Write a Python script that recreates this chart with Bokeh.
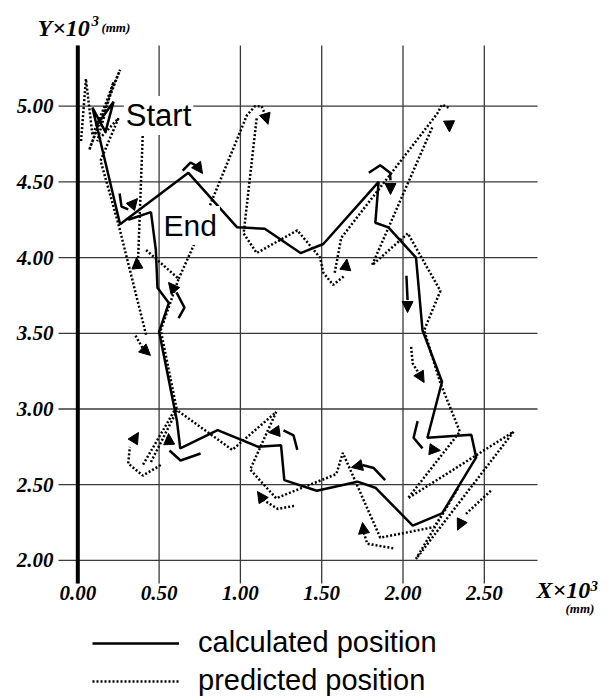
from bokeh.plotting import figure
from bokeh.models import (Range1d, Label, Arrow, NormalHead, ColumnDataSource, Legend, LegendItem)
from bokeh.core.properties import value
from bokeh.embed import file_html
from bokeh.resources import INLINE

# ---------------- data ----------------
x_ticks = [0.0, 0.5, 1.0, 1.5, 2.0, 2.5]
x_tick_labels = ["0.00", "0.50", "1.00", "1.50", "2.00", "2.50"]
y_ticks = [2.0, 2.5, 3.0, 3.5, 4.0, 4.5, 5.0]
y_tick_labels = ["2.00", "2.50", "3.00", "3.50", "4.00", "4.50", "5.00"]

# calculated position (solid)
calc_x = [0.12, 0.22, 0.17, 0.09, 0.26, 0.68, 0.98, 1.15, 1.37, 1.51, 1.85, 1.83, 1.91, 2.08,
          2.12, 2.24, 2.15, 2.42, 2.45, 2.24, 2.06, 1.83, 1.72, 1.47, 1.27, 1.25, 1.11, 0.86,
          0.63, 0.61, 0.50, 0.56, 0.49, 0.48, 0.45, 0.31]
calc_y = [4.88, 5.03, 4.83, 4.99, 4.22, 4.56, 4.20, 4.19, 4.03, 4.09, 4.50, 4.23, 4.20, 4.00,
          3.52, 3.18, 2.81, 2.83, 2.68, 2.31, 2.23, 2.48, 2.52, 2.46, 2.53, 2.76, 2.75, 2.86,
          2.74, 2.92, 3.51, 3.70, 3.80, 4.05, 4.30, 4.25]

# predicted position (dotted), in pieces
pred_xs = [
    [0.02, 0.05, 0.09, 0.26, 0.07, 0.22, 0.12, 0.25, 0.14, 0.25, 0.42],
    [0.40, 0.37],
    [0.42, 0.62, 0.51, 0.61],
    [0.62, 0.70, 1.04, 1.09, 1.13, 1.15],
    [1.10, 1.02, 1.10, 1.35, 1.49, 1.51, 1.57, 1.64],
    [1.58, 1.62, 2.21, 2.24, 2.28],
    [2.18, 1.81, 2.03, 2.23, 2.13, 2.23, 2.35, 2.03, 2.68, 2.08, 2.34, 2.24, 2.19, 1.86,
     1.63, 1.59, 1.22, 1.06, 1.22, 0.95, 0.60, 0.40],
    [0.45, 0.61],
]
pred_ys = [
    [4.77, 5.18, 4.81, 5.24, 4.71, 5.16, 4.77, 4.92, 4.64, 4.22, 3.49],
    [4.83, 3.97],
    [4.05, 3.86, 3.52, 2.99],
    [3.86, 4.05, 4.94, 5.00, 5.00, 4.95],
    [4.92, 4.16, 4.03, 4.18, 4.00, 3.90, 3.82, 3.88],
    [3.90, 4.13, 4.95, 5.01, 4.99],
    [4.86, 3.95, 4.16, 3.78, 3.52, 3.17, 2.85, 2.41, 2.85, 2.01, 2.48, 2.30, 2.22, 2.15,
     2.71, 2.57, 2.41, 2.60, 2.98, 2.73, 3.00, 2.63],
    [2.65, 2.99],
]

# direction curls (solid)
curl_solid_xs = [[0.645, 0.693, 0.736], [1.79, 1.86, 1.92, 1.923], [0.257, 0.269, 0.31],
                 [0.62, 0.656, 0.607], [2.021, 2.028], [2.09, 2.065, 2.12],
                 [1.89, 1.82, 1.75], [1.35, 1.327, 1.265], [0.755, 0.632, 0.564]]
curl_solid_ys = [[4.575, 4.628, 4.602], [4.56, 4.61, 4.56, 4.51], [4.423, 4.337, 4.318],
                 [3.60, 3.67, 3.77], [3.88, 3.72], [2.92, 2.81, 2.74],
                 [2.53, 2.61, 2.63], [2.73, 2.825, 2.858], [2.706, 2.66, 2.726]]
# direction curls (dotted)
curl_dot_xs = [[2.05, 2.06, 2.10], [0.51, 0.40, 0.31, 0.32], [1.33, 1.23, 1.14],
               [1.94, 1.78, 1.76], [2.54, 2.38], [0.355, 0.40]]
curl_dot_ys = [[3.41, 3.30, 3.23], [2.63, 2.56, 2.64, 2.75], [2.36, 2.34, 2.40],
               [2.08, 2.11, 2.18], [2.46, 2.30], [3.485, 3.40]]

# arrow heads: from (x0,y0) toward tip (x1,y1)
head_x0 = [0.736, 1.923, 0.31, 0.607, 2.028, 2.12, 1.75, 1.265, 0.564,
           2.10, 0.32, 1.14, 1.76, 2.38, 0.40, 1.15, 2.28, 1.64, 0.367]
head_y0 = [4.602, 4.51, 4.318, 3.77, 3.72, 2.74, 2.63, 2.858, 2.726,
           3.23, 2.75, 2.40, 2.18, 2.30, 3.40, 4.95, 4.99, 3.88, 3.927]
head_x1 = [0.767, 1.923, 0.367, 0.558, 2.028, 2.23, 1.683, 1.173, 0.558,
           2.13, 0.373, 1.105, 1.751, 2.335, 0.447, 1.17, 2.286, 1.655, 0.361]
head_y1 = [4.556, 4.417, 4.39, 3.836, 3.637, 2.726, 2.614, 2.845, 2.838,
           3.175, 2.845, 2.455, 2.25, 2.20, 3.354, 4.88, 4.83, 3.99, 4.00]

# ---------------- layout constants ----------------
X0, X1 = -0.4754, 3.2884          # whole canvas
Y0, Y1 = 1.0878, 5.6981
GL, GR = -0.1187, 2.8272          # grid extent
GB, GT = 1.8474, 5.401

p = figure(width=612, height=698, x_range=Range1d(X0, X1), y_range=Range1d(Y0, Y1),
           x_axis_location=None, y_axis_location=None, min_border=0,
           output_backend="svg", toolbar_location=None, tools="")
p.outline_line_color = None
p.grid.visible = False
p.background_fill_color = "white"

grid_col = "#3a3a3a"
p.segment(x0=x_ticks, y0=[GB] * len(x_ticks), x1=x_ticks, y1=[GT] * len(x_ticks),
          line_color=grid_col, line_width=1.3)
p.segment(x0=[GL] * len(y_ticks), y0=y_ticks, x1=[GR] * len(y_ticks), y1=y_ticks,
          line_color=grid_col, line_width=1.3)
p.segment(x0=[0.0], y0=[GB], x1=[0.0], y1=[GT], line_color="black", line_width=4)

serif = dict(text_font=value("Liberation Serif"), text_font_style=value("bold italic"),
             text_color="black")
p.text(x=[-0.149] * len(y_ticks), y=y_ticks, text=y_tick_labels, text_align="right",
       text_baseline="middle", text_font_size="21px", **serif)
p.text(x=x_ticks, y=[1.785] * len(x_ticks), text=x_tick_labels, text_align="center",
       text_baseline="middle", text_font_size="21px", **serif)

r_pred = p.multi_line(pred_xs, pred_ys, line_color="black", line_width=2.5, line_dash="2 2")
r_calc = p.line(calc_x, calc_y, line_color="black", line_width=2.5)
p.multi_line(curl_solid_xs, curl_solid_ys, line_color="black", line_width=2.5)
p.multi_line(curl_dot_xs, curl_dot_ys, line_color="black", line_width=2.5, line_dash="2 2")

heads = ColumnDataSource(dict(x0=head_x0, y0=head_y0, x1=head_x1, y1=head_y1))
p.add_layout(Arrow(end=NormalHead(size=11, fill_color="black", line_color="black", line_width=1),
                   x_start="x0", y_start="y0", x_end="x1", y_end="y1", source=heads,
                   line_alpha=0))

# text labels
p.add_layout(Label(x=0.283, y=4.939, text="Start", text_font="Liberation Sans",
                   text_font_size="31px", text_color="black", text_baseline="alphabetic",
                   background_fill_color="white", padding=2))
p.add_layout(Label(x=0.509, y=4.212, text="End", text_font="Liberation Sans",
                   text_font_size="30px", text_color="black", text_baseline="alphabetic",
                   background_fill_color="white", padding=3))

lab = dict(text_font="Liberation Serif", text_font_style="bold italic", text_color="black",
           text_baseline="alphabetic")
p.add_layout(Label(x=-0.248, y=5.518, text="Y\u00d710", text_font_size="24px", **lab))
p.add_layout(Label(x=0.085, y=5.561, text="3", text_font_size="15px", **lab))
p.add_layout(Label(x=0.145, y=5.522, text="(mm)", text_font_size="13px", **lab))
p.add_layout(Label(x=2.821, y=1.806, text="X\u00d710", text_font_size="24px", **lab))
p.add_layout(Label(x=3.153, y=1.834, text="3", text_font_size="15px", **lab))
p.add_layout(Label(x=2.999, y=1.682, text="(mm)", text_font_size="13px", **lab))

legend = Legend(items=[LegendItem(label="calculated position", renderers=[r_calc]),
                       LegendItem(label="predicted position", renderers=[r_pred])],
                location=(92, 1), glyph_width=87, glyph_height=26, label_height=26,
                spacing=5, padding=0, margin=0, label_standoff=19,
                label_text_font="Liberation Sans", label_text_font_size="29px",
                label_text_color="black",
                border_line_alpha=0, background_fill_alpha=0)
p.add_layout(legend)

open("out.html", "w").write(file_html(p, INLINE))
